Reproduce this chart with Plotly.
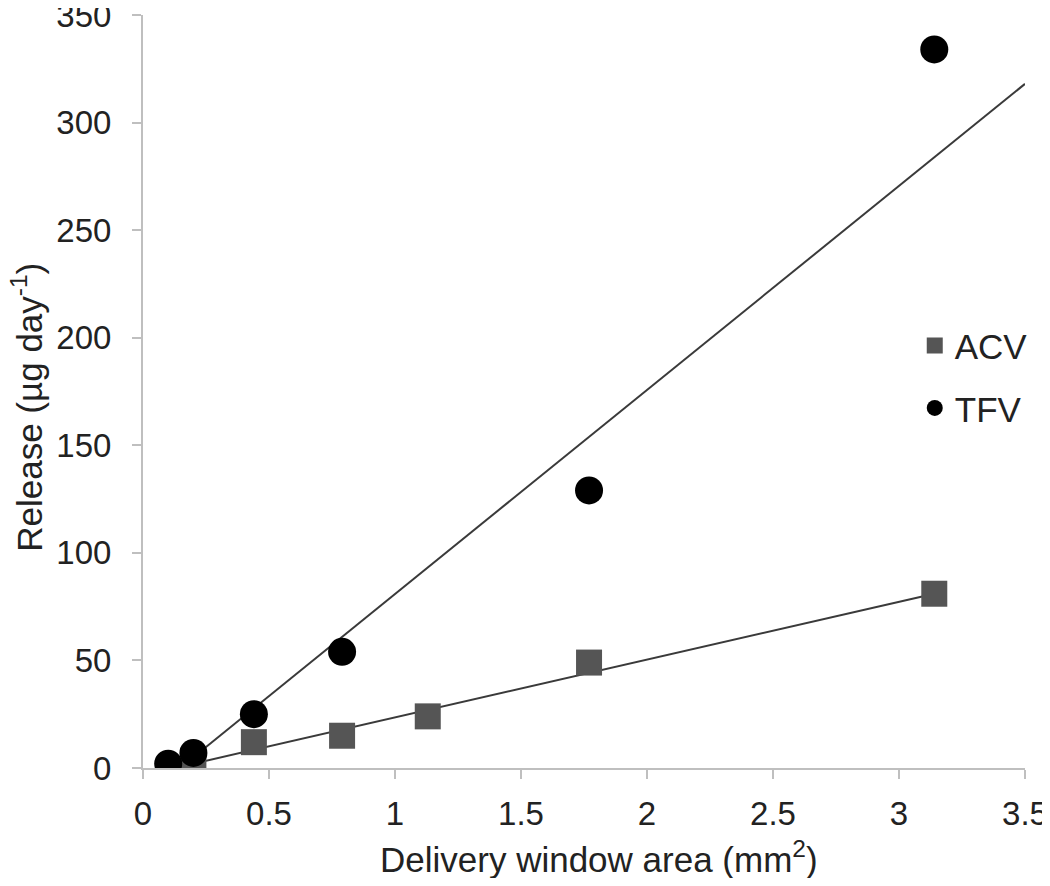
import plotly.graph_objects as go

# delivery window areas (mm^2) and release rates (ug/day)
acv_area = [0.2, 0.44, 0.79, 1.13, 1.77, 3.14]
acv_release = [1.5, 12, 15, 24, 49, 81]
tfv_area = [0.1, 0.2, 0.44, 0.79, 1.77, 3.14]
tfv_release = [2, 7, 25, 54, 129, 334]

# linear trendlines as drawn in the figure
acv_fit_x = [0.2, 3.14]
acv_fit_y = [2, 81]
tfv_fit_x = [0.2, 3.5]
tfv_fit_y = [5, 318]

font_family = "Liberation Sans, Arial, sans-serif"
txt = '#222222'
tick_fs = 33
title_fs = 35

fig = go.Figure()

fig.add_trace(go.Scatter(x=acv_fit_x, y=acv_fit_y, mode='lines',
                         line=dict(color='#3a3a3a', width=2), showlegend=False))
fig.add_trace(go.Scatter(x=tfv_fit_x, y=tfv_fit_y, mode='lines',
                         line=dict(color='#3a3a3a', width=2), showlegend=False))

fig.add_trace(go.Scatter(
    x=acv_area, y=acv_release, mode='markers', name='ACV', legendgroup='acv',
    marker=dict(symbol='square', size=26, color='#555555')
))
fig.add_trace(go.Scatter(
    x=tfv_area, y=tfv_release, mode='markers', name='TFV', legendgroup='tfv',
    marker=dict(symbol='circle', size=28, color='#000000')
))

axis_common = dict(
    showgrid=False, zeroline=False, showline=True,
    linecolor='#bfbfbf', linewidth=2,
    ticks='outside', ticklen=9, tickcolor='#bfbfbf', tickwidth=2,
    tickfont=dict(size=tick_fs, color=txt, family=font_family),
    ticklabeloverflow='allow',
    automargin=False,
)

fig.update_xaxes(
    range=[0, 3.5], tickvals=[0, 0.5, 1, 1.5, 2, 2.5, 3, 3.5],
    ticktext=['0', '0.5', '1', '1.5', '2', '2.5', '3', '3.5'],
    ticklabelstandoff=6,
    **axis_common
)
fig.update_yaxes(
    range=[0, 350], tickvals=[0, 50, 100, 150, 200, 250, 300, 350],
    ticklabelstandoff=14,
    **axis_common
)

# axis titles placed as annotations to match the original positions
fig.add_annotation(text='Delivery window area (mm<sup>2</sup>)',
                   xref='paper', yref='paper', x=0.517, y=-0.118,
                   xanchor='center', yanchor='middle',
                   showarrow=False, font=dict(size=title_fs, color=txt, family=font_family))
fig.add_annotation(text='Release (µg day<sup>-1</sup>)', textangle=-90,
                   xref='paper', yref='paper', x=-0.131, y=0.479,
                   xanchor='center', yanchor='middle',
                   showarrow=False, font=dict(size=title_fs, color=txt, family=font_family))

fig.update_layout(
    margin=dict(l=135, r=17, t=7, b=110),
    paper_bgcolor='white', plot_bgcolor='white',
    font=dict(family=font_family, color=txt),
    legend=dict(x=0.875, y=0.60, xanchor='left', yanchor='top',
                font=dict(size=title_fs), itemsizing='trace',
                bgcolor='rgba(0,0,0,0)', tracegroupgap=14),
)

fig.write_html("out.html")
